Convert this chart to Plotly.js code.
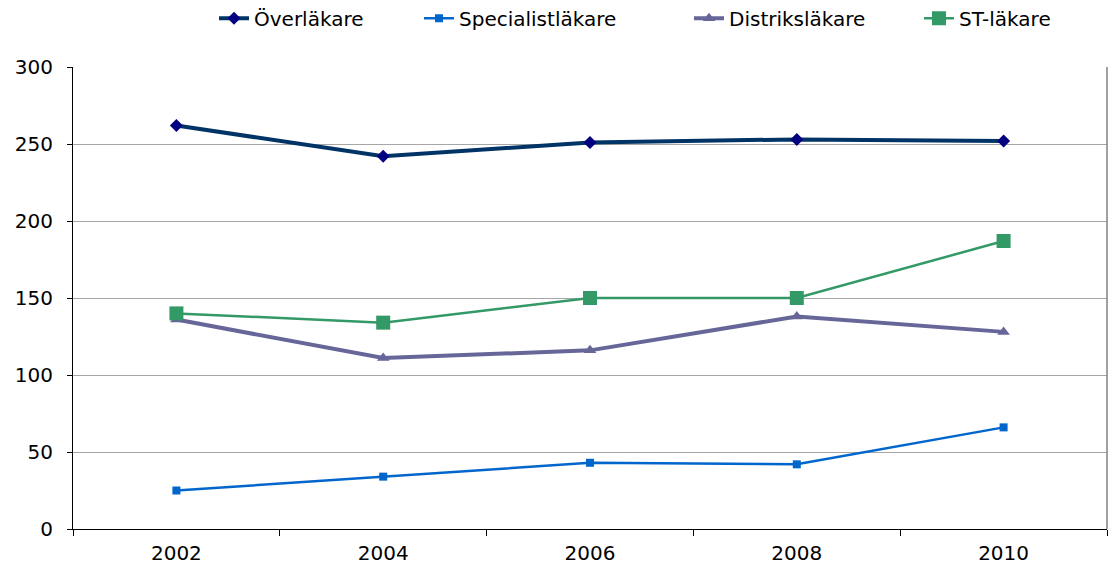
<!DOCTYPE html>
<html><head><meta charset="utf-8">
<script src="https://cdn.plot.ly/plotly-3.0.1.min.js"></script>
<style>body{margin:0;padding:0;background:#fff}#chart{width:1112px;height:570px}</style>
</head><body><div id="chart"></div>
<script>
const years = ["2002", "2004", "2006", "2008", "2010"];
const overlakare = [262, 242, 251, 253, 252];
const specialistlakare = [25, 34, 43, 42, 66];
const distrikslakare = [136, 111, 116, 138, 128];
const stlakare = [140, 134, 150, 150, 187];
const yTicks = [0, 50, 100, 150, 200, 250, 300];

const traces = [
  {name: "Överläkare", x: years, y: overlakare, type: "scatter", mode: "lines+markers", legend: "legend",
   line: {color: "#003366", width: 4}, marker: {symbol: "diamond", size: 10, color: "#000080"}},
  {name: "Specialistläkare", x: years, y: specialistlakare, type: "scatter", mode: "lines+markers", legend: "legend2",
   line: {color: "#0066CC", width: 2.5}, marker: {symbol: "square", size: 8, color: "#0066CC"}},
  {name: "Distriksläkare", x: years, y: distrikslakare, type: "scatter", mode: "lines+markers", legend: "legend3",
   line: {color: "#666699", width: 4}, marker: {symbol: "triangle-up", size: 11, color: "#666699"}},
  {name: "ST-läkare", x: years, y: stlakare, type: "scatter", mode: "lines+markers", legend: "legend4",
   line: {color: "#339966", width: 2.5}, marker: {symbol: "square", size: 14, color: "#339966"}}
];

function leg(px) {
  return {orientation: "h", xref: "container", yref: "container", x: px / 1112, xanchor: "left",
          y: 0.968, yanchor: "middle", font: {size: 20}, itemwidth: 30, bgcolor: "rgba(0,0,0,0)"};
}

const layout = {
  width: 1112, height: 570,
  margin: {l: 73, r: 5, t: 67, b: 41, autoexpand: false},
  paper_bgcolor: "#ffffff", plot_bgcolor: "#ffffff",
  font: {family: "DejaVu Sans, Arial, sans-serif", size: 20, color: "#000000"},
  showlegend: true,
  legend: leg(214), legend2: leg(419), legend3: leg(689), legend4: leg(919),
  xaxis: {type: "category", range: [-0.5, 4.5], tickson: "boundaries",
          ticks: "outside", ticklen: 6, tickcolor: "#000", showgrid: false,
          showline: true, linecolor: "#000", linewidth: 1, zeroline: false,
          tickfont: {size: 20}, ticklabelstandoff: 6, automargin: false},
  yaxis: {range: [0, 300], tickvals: yTicks, ticks: "outside", ticklen: 5, tickcolor: "#000",
          showline: true, linecolor: "#000", linewidth: 1, gridcolor: "#a6a6a6", gridwidth: 1,
          zeroline: false, tickfont: {size: 20}, ticklabelstandoff: 10, automargin: false},
  shapes: [{type: "line", xref: "paper", yref: "paper", x0: 1, x1: 1, y0: 0, y1: 1,
            line: {color: "#808080", width: 1.5}}]
};

Plotly.newPlot("chart", traces, layout, {displayModeBar: false, staticPlot: true});
</script></body></html>
